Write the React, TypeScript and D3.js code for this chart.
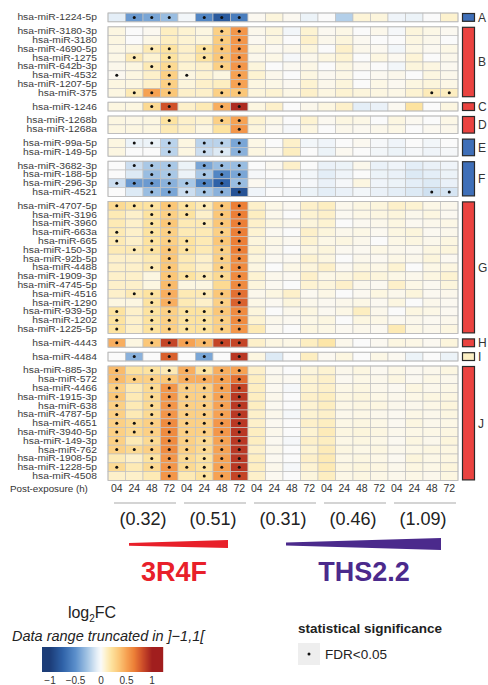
import React from "react";
import * as d3 from "d3";

// row labels (top to bottom)
const rowNames = [
  "hsa-miR-1224-5p",
  "hsa-miR-3180-3p", "hsa-miR-3180", "hsa-miR-4690-5p", "hsa-miR-1275",
  "hsa-miR-642b-3p", "hsa-miR-4532", "hsa-miR-1207-5p", "hsa-miR-375",
  "hsa-miR-1246",
  "hsa-miR-1268b", "hsa-miR-1268a",
  "hsa-miR-99a-5p", "hsa-miR-149-5p",
  "hsa-miR-3682-3p", "hsa-miR-188-5p", "hsa-miR-296-3p", "hsa-miR-4521",
  "hsa-miR-4707-5p", "hsa-miR-3196", "hsa-miR-3960", "hsa-miR-663a", "hsa-miR-665",
  "hsa-miR-150-3p", "hsa-miR-92b-5p", "hsa-miR-4488", "hsa-miR-1909-3p",
  "hsa-miR-4745-5p", "hsa-miR-4516", "hsa-miR-1290", "hsa-miR-939-5p",
  "hsa-miR-1202", "hsa-miR-1225-5p",
  "hsa-miR-4443",
  "hsa-miR-4484",
  "hsa-miR-885-3p", "hsa-miR-572", "hsa-miR-4466", "hsa-miR-1915-3p", "hsa-miR-638",
  "hsa-miR-4787-5p", "hsa-miR-4651", "hsa-miR-3940-5p", "hsa-miR-149-3p",
  "hsa-miR-762", "hsa-miR-1908-5p", "hsa-miR-1228-5p", "hsa-miR-4508",
];

const groupLetters = ["A", "B", "C", "D", "E", "F", "G", "H", "I", "J"];
const groupSizes = [1, 8, 1, 2, 2, 4, 15, 1, 1, 13];
const groupColors = ["#3f6fb8", "#ea4340", "#ea4340", "#ea4340", "#3f6fb8", "#3f6fb8", "#ea4340", "#ea4340", "#fbefc4", "#ea4340"];

const timeLabels = ["04", "24", "48", "72"];
const doseLabels = ["(0.32)", "(0.51)", "(0.31)", "(0.46)", "(1.09)"];
const legendTicks = [-1, -0.5, 0, 0.5, 1];

// log2FC, 20 columns per row (3R4F low, 3R4F high, THS low, mid, high x 04/24/48/72)
const values = [
  [-0.08, -0.45, -0.4, -0.3, -0.03, -0.55, -0.8, -0.6, 0.02, 0.06, 0.02, -0.05, 0.0, -0.22, 0.07, 0.06, -0.04, -0.05, 0.0, 0.09],
  [0.05, 0.0, 0.02, 0.12, 0.08, 0.05, 0.3, 0.55, 0.03, 0.06, -0.03, 0.08, 0.02, 0.04, 0.0, 0.03, -0.02, 0.06, 0.04, 0.02],
  [0.05, 0.0, 0.04, 0.12, 0.08, 0.06, 0.32, 0.55, 0.02, 0.05, 0.0, 0.1, 0.03, 0.06, 0.02, 0.0, 0.0, 0.05, 0.03, 0.0],
  [0.04, 0.05, 0.15, 0.2, 0.1, 0.2, 0.35, 0.55, 0.05, 0.02, 0.03, 0.06, 0.0, 0.1, 0.03, 0.02, -0.03, 0.04, 0.02, 0.04],
  [0.04, 0.15, 0.08, 0.2, 0.1, 0.2, 0.35, 0.55, 0.03, 0.04, -0.02, 0.03, 0.05, 0.08, 0.0, 0.05, 0.02, 0.07, 0.0, 0.03],
  [0.03, 0.05, 0.15, 0.25, 0.08, 0.1, 0.3, 0.55, 0.06, 0.0, 0.02, 0.04, 0.0, 0.05, 0.02, 0.0, -0.03, 0.06, 0.05, 0.02],
  [0.02, 0.05, 0.1, 0.3, 0.05, 0.08, 0.05, 0.5, 0.08, 0.03, 0.0, 0.05, 0.02, 0.04, 0.0, 0.02, 0.03, 0.0, 0.05, 0.03],
  [0.05, 0.05, 0.1, 0.3, 0.06, 0.1, 0.12, 0.5, 0.05, 0.04, 0.02, 0.08, 0.03, 0.06, 0.0, 0.04, 0.02, 0.05, 0.06, 0.04],
  [0.05, 0.15, 0.5, 0.35, 0.1, 0.1, 0.3, 0.35, 0.06, 0.08, 0.04, 0.1, 0.05, 0.08, 0.06, 0.05, 0.04, 0.08, 0.14, 0.12],
  [0.05, 0.05, 0.25, 0.8, 0.1, 0.15, 0.45, 0.95, 0.05, 0.1, 0.0, 0.03, 0.05, 0.1, -0.08, -0.06, 0.02, 0.2, 0.0, 0.05],
  [0.05, 0.04, 0.05, 0.2, 0.1, 0.08, 0.3, 0.5, 0.08, 0.04, 0.0, 0.08, 0.02, 0.05, 0.04, 0.0, 0.05, 0.02, 0.0, 0.04],
  [0.05, 0.05, 0.05, 0.15, 0.1, 0.05, 0.2, 0.55, 0.06, 0.02, -0.02, 0.05, 0.0, 0.03, 0.02, 0.03, 0.04, 0.0, 0.02, 0.03],
  [0.05, -0.05, -0.05, -0.2, 0.05, -0.2, -0.2, -0.4, 0.04, 0.0, 0.1, -0.03, -0.04, 0.0, 0.02, -0.02, -0.04, 0.0, -0.03, 0.0],
  [0.05, 0.0, 0.0, -0.2, 0.05, -0.15, -0.1, -0.35, 0.05, 0.02, 0.12, 0.0, -0.05, 0.02, 0.0, -0.03, -0.05, -0.02, -0.04, -0.02],
  [0.0, -0.15, -0.25, -0.25, -0.05, -0.4, -0.3, -0.3, 0.0, 0.02, 0.1, 0.0, -0.06, -0.05, 0.03, -0.06, -0.04, -0.08, -0.06, -0.04],
  [0.0, -0.1, -0.3, -0.25, -0.05, -0.25, -0.55, -0.4, -0.02, 0.0, 0.0, -0.03, -0.08, -0.04, 0.0, -0.05, -0.06, -0.1, -0.08, -0.05],
  [-0.15, -0.45, -0.45, -0.35, -0.25, -0.55, -0.75, -0.3, 0.02, -0.03, 0.0, -0.02, -0.06, -0.02, 0.05, -0.04, -0.05, -0.08, -0.1, -0.06],
  [0.0, -0.1, -0.3, -0.4, -0.15, -0.25, -0.35, -0.85, -0.04, 0.0, -0.02, -0.05, -0.08, -0.06, -0.03, -0.06, -0.08, -0.1, -0.14, -0.12],
  [0.25, 0.2, 0.2, 0.35, 0.2, 0.15, 0.35, 0.65, 0.1, 0.04, 0.02, 0.1, 0.12, 0.03, 0.05, 0.06, 0.1, 0.08, 0.04, 0.03],
  [0.15, 0.1, 0.2, 0.3, 0.2, 0.1, 0.35, 0.65, 0.12, 0.03, 0.0, 0.08, 0.1, 0.02, 0.04, 0.05, 0.06, 0.03, 0.05, 0.02],
  [0.15, 0.1, 0.2, 0.35, 0.15, 0.15, 0.35, 0.65, 0.1, 0.05, 0.03, 0.06, 0.08, 0.0, 0.02, 0.03, 0.05, 0.02, 0.03, 0.04],
  [0.15, 0.1, 0.2, 0.3, 0.15, 0.15, 0.3, 0.65, 0.08, 0.02, 0.0, 0.1, 0.06, 0.03, 0.04, 0.02, 0.05, 0.06, 0.02, 0.03],
  [0.15, 0.1, 0.2, 0.3, 0.2, 0.15, 0.35, 0.65, 0.06, 0.04, 0.02, 0.08, 0.04, 0.05, 0.03, 0.0, 0.04, 0.05, 0.03, 0.05],
  [0.15, 0.15, 0.2, 0.35, 0.2, 0.15, 0.3, 0.65, 0.08, 0.03, 0.0, 0.05, 0.06, 0.02, 0.02, 0.04, 0.03, 0.02, 0.05, 0.06],
  [0.1, 0.1, 0.15, 0.35, 0.15, 0.1, 0.3, 0.6, 0.06, 0.02, 0.02, 0.08, 0.05, 0.0, 0.03, 0.02, 0.04, 0.03, 0.06, 0.02],
  [0.1, 0.1, 0.15, 0.35, 0.15, 0.1, 0.3, 0.6, 0.05, 0.0, 0.04, 0.06, 0.1, 0.02, 0.05, 0.04, 0.08, 0.0, 0.04, 0.05],
  [0.1, 0.1, 0.05, 0.35, 0.2, 0.15, 0.25, 0.6, 0.08, 0.03, 0.02, 0.1, 0.04, 0.05, 0.08, 0.06, 0.04, 0.03, 0.05, 0.08],
  [0.1, 0.1, 0.05, 0.4, 0.05, 0.05, 0.25, 0.6, 0.06, 0.02, 0.0, 0.08, 0.06, 0.1, 0.03, 0.02, 0.1, 0.04, 0.02, 0.06],
  [0.1, 0.15, 0.2, 0.45, 0.15, 0.15, 0.35, 0.7, 0.03, 0.05, 0.1, 0.02, 0.04, 0.0, 0.02, 0.05, 0.03, 0.06, 0.02, 0.03],
  [0.05, 0.05, 0.2, 0.45, 0.15, 0.1, 0.3, 0.75, 0.04, 0.02, 0.06, 0.03, 0.02, 0.03, 0.04, 0.02, 0.05, 0.0, 0.03, 0.02],
  [0.2, 0.1, 0.2, 0.3, 0.2, 0.2, 0.35, 0.6, 0.06, 0.0, 0.03, 0.05, 0.02, 0.04, 0.12, 0.03, 0.0, 0.05, 0.04, 0.02],
  [0.2, 0.1, 0.2, 0.3, 0.2, 0.2, 0.3, 0.6, 0.08, 0.03, 0.02, 0.04, 0.05, 0.0, 0.05, 0.04, 0.02, 0.03, 0.02, 0.03],
  [0.2, 0.1, 0.2, 0.3, 0.2, 0.2, 0.3, 0.55, 0.15, 0.02, 0.0, 0.05, 0.04, 0.02, 0.03, 0.02, 0.15, 0.04, 0.03, 0.05],
  [0.45, 0.05, 0.35, 0.85, 0.5, 0.4, 0.85, 0.85, 0.1, 0.05, 0.04, 0.12, 0.18, 0.03, 0.0, 0.02, 0.05, 0.04, 0.02, 0.06],
  [0.0, -0.35, 0.0, 0.75, 0.0, -0.4, 0.0, 0.9, 0.05, -0.1, 0.0, 0.12, 0.02, 0.05, 0.0, 0.04, 0.02, -0.05, 0.0, -0.05],
  [0.4, 0.2, 0.2, 0.15, 0.45, 0.2, 0.45, 0.5, 0.1, 0.02, 0.0, 0.06, 0.08, 0.03, 0.05, 0.02, 0.04, 0.02, 0.03, 0.05],
  [0.4, 0.3, 0.3, 0.35, 0.45, 0.45, 0.5, 0.7, 0.12, 0.03, 0.02, 0.08, 0.1, 0.02, 0.04, 0.03, 0.05, 0.02, 0.04, 0.03],
  [0.3, 0.15, 0.25, 0.55, 0.3, 0.3, 0.5, 0.85, 0.12, 0.02, -0.02, 0.08, 0.1, 0.04, 0.05, 0.03, 0.02, 0.05, 0.03, 0.04],
  [0.35, 0.15, 0.25, 0.55, 0.3, 0.3, 0.5, 0.9, 0.12, 0.03, 0.0, 0.1, 0.12, 0.05, 0.06, 0.04, 0.03, 0.04, 0.05, 0.05],
  [0.3, 0.15, 0.25, 0.55, 0.3, 0.3, 0.5, 0.9, 0.12, 0.02, 0.0, 0.08, 0.12, 0.04, 0.05, 0.05, 0.03, 0.03, 0.04, 0.06],
  [0.3, 0.15, 0.25, 0.55, 0.3, 0.3, 0.5, 0.9, 0.1, 0.03, -0.02, 0.08, 0.1, 0.03, 0.04, 0.03, 0.02, 0.04, 0.03, 0.05],
  [0.3, 0.25, 0.3, 0.6, 0.3, 0.3, 0.55, 0.9, 0.1, 0.02, 0.0, 0.1, 0.12, 0.04, 0.05, 0.04, 0.02, 0.05, 0.03, 0.04],
  [0.3, 0.25, 0.3, 0.6, 0.3, 0.3, 0.55, 0.9, 0.12, 0.03, 0.0, 0.08, 0.14, 0.05, 0.06, 0.05, 0.03, 0.04, 0.04, 0.05],
  [0.3, 0.15, 0.25, 0.6, 0.3, 0.25, 0.5, 0.9, 0.12, 0.02, -0.02, 0.1, 0.12, 0.04, 0.05, 0.04, 0.02, 0.05, 0.03, 0.06],
  [0.3, 0.25, 0.3, 0.6, 0.3, 0.25, 0.5, 0.9, 0.1, 0.03, 0.0, 0.08, 0.14, 0.05, 0.04, 0.05, 0.03, 0.04, 0.05, 0.05],
  [0.15, 0.1, 0.2, 0.55, 0.25, 0.2, 0.5, 0.9, 0.12, 0.02, 0.0, 0.1, 0.15, 0.04, 0.05, 0.04, 0.02, 0.06, 0.04, 0.05],
  [0.25, 0.15, 0.25, 0.55, 0.25, 0.2, 0.5, 0.9, 0.12, 0.03, -0.02, 0.08, 0.15, 0.05, 0.06, 0.05, 0.03, 0.05, 0.04, 0.06],
  [0.1, 0.1, 0.15, 0.55, 0.15, 0.2, 0.5, 0.85, 0.1, 0.02, 0.0, 0.06, 0.12, 0.04, 0.05, 0.04, 0.03, 0.04, 0.03, 0.05],
];

// columns with FDR<0.05, per row
const sigCols = [
  [1, 2, 3, 5, 6, 7],
  [6, 7], [6, 7], [2, 3, 5, 6, 7], [1, 3, 5, 6, 7], [2, 3, 6, 7], [0, 3, 4, 7], [3, 7], [1, 2, 3, 6, 7, 18, 19],
  [2, 3, 6, 7],
  [3, 6, 7], [7],
  [1, 2, 3, 5, 6, 7], [3, 5, 6, 7],
  [1, 2, 3, 5, 6, 7], [2, 3, 5, 6, 7], [0, 1, 2, 3, 4, 5, 6, 7], [2, 3, 4, 5, 6, 7, 18, 19],
  [0, 1, 2, 3, 4, 5, 6, 7], [2, 3, 4, 6, 7], [2, 3, 5, 6, 7], [0, 2, 3, 6, 7], [0, 2, 3, 4, 6, 7],
  [1, 2, 3, 4, 6, 7], [3, 6, 7], [2, 3, 6, 7], [3, 4, 5, 6, 7], [3, 7], [1, 2, 3, 5, 6, 7],
  [2, 3, 6, 7], [0, 2, 3, 4, 5, 6, 7], [0, 2, 3, 4, 5, 6, 7], [0, 2, 3, 4, 5, 6, 7],
  [0, 2, 3, 4, 5, 6, 7],
  [1, 3, 5, 7],
  [0, 2, 3, 4, 5, 6, 7], [0, 1, 2, 3, 4, 5, 6, 7], [0, 2, 3, 4, 5, 6, 7], [0, 2, 3, 4, 5, 6, 7],
  [0, 2, 3, 4, 5, 6, 7], [0, 2, 3, 4, 5, 6, 7], [0, 1, 2, 3, 4, 5, 6, 7], [0, 1, 2, 3, 4, 5, 6, 7],
  [0, 2, 3, 4, 5, 6, 7], [0, 1, 2, 3, 4, 5, 6, 7], [2, 3, 4, 5, 6, 7], [0, 2, 3, 4, 5, 6, 7],
  [3, 5, 6, 7],
];

const color = d3
  .scaleLinear<string>()
  .domain([-1, -0.75, -0.5, -0.25, -0.08, 0, 0.08, 0.2, 0.35, 0.5, 0.65, 0.8, 1])
  .range(["#1c3d78", "#2f62a8", "#5b8fcb", "#a9c8e6", "#e4eef7", "#fafafa", "#fdf3d2", "#fde3a0", "#fbc778", "#f6a253", "#ec7f37", "#d0522a", "#a11e1e"])
  .clamp(true);

const FONT = "'Liberation Sans', Arial, sans-serif";

export default function App() {
  const nCols = 20;
  const x = d3.scaleBand<number>().domain(d3.range(nCols)).range([108, 458]);
  const cw = x.bandwidth();
  const rowH = 8.8;
  const gap = 5;
  const top = 13;

  // row y positions with gaps between groups
  const rowY: number[] = [];
  const groupBox: { y0: number; y1: number }[] = [];
  let yy = top;
  groupSizes.forEach((n) => {
    const y0 = yy;
    for (let i = 0; i < n; i++) {
      rowY.push(yy);
      yy += rowH;
    }
    groupBox.push({ y0, y1: yy });
    yy += gap;
  });

  const legendX = d3.scaleLinear().domain([-1, 1]).range([50, 152]);
  const barPx = d3.range(42, 163, 1);

  const groupX = (g: number) => [x(g * 4)!, x(g * 4 + 3)! + cw];

  return (
    <svg width={488} height={685} style={{ position: "absolute", left: 0, top: 0, background: "#fff" }} fontFamily={FONT}>
      {/* heatmap cells */}
      {values.map((row, r) => (
        <g key={r}>
          {row.map((v, c) => (
            <rect key={c} x={x(c)} y={rowY[r]} width={cw} height={rowH} fill={color(v)} stroke="#c2c2c2" strokeWidth={0.7} />
          ))}
          {sigCols[r].map((c) => (
            <circle key={"s" + c} cx={x(c)! + cw / 2} cy={rowY[r] + rowH / 2} r={1.5} fill="#111" />
          ))}
          <text
            transform={`translate(97,${rowY[r] + rowH / 2}) scale(1.2,1)`}
            dy="0.35em"
            textAnchor="end"
            fontSize={8.6}
            fill="#3c3c3c"
          >
            {rowNames[r]}
          </text>
        </g>
      ))}

      {/* group outlines, bars and letters */}
      {groupBox.map((b, g) => (
        <g key={g}>
          <rect x={108} y={b.y0} width={350} height={b.y1 - b.y0} fill="none" stroke="#b8b8b8" strokeWidth={0.8} />
          <rect x={462.5} y={b.y0 + 0.5} width={12} height={b.y1 - b.y0 - 1} fill={groupColors[g]} stroke="#2a2a2a" strokeWidth={1.2} />
          <text x={478} y={(b.y0 + b.y1) / 2} dy="0.36em" fontSize={12} fill="#333">
            {groupLetters[g]}
          </text>
        </g>
      ))}

      {/* column labels */}
      <text x={10} y={492} fontSize={9.8} fill="#333">Post-exposure (h)</text>
      {d3.range(nCols).map((c) => (
        <text key={c} x={x(c)! + cw / 2} y={492} textAnchor="middle" fontSize={10.5} fill="#333">
          {timeLabels[c % 4]}
        </text>
      ))}

      {/* dose brackets */}
      {doseLabels.map((d, g) => {
        const [g0, g1] = groupX(g);
        return (
          <g key={d}>
            <line x1={g0 + 6} x2={g1 - 2} y1={503} y2={503} stroke="#aaa" strokeWidth={1.2} />
            <text x={(g0 + g1) / 2} y={525} textAnchor="middle" fontSize={18} fill="#222">
              {d}
            </text>
          </g>
        );
      })}

      {/* dose wedges */}
      <polygon points="129,543 228,540 228,548 129,545.8" fill="#e8202a" />
      <polygon points="286,542.5 441,538 441,550 286,545.5" fill="#4b2a8c" />
      <text x={174} y={581} textAnchor="middle" fontSize={27} fontWeight="bold" fill="#e8202a">3R4F</text>
      <text x={364} y={581} textAnchor="middle" fontSize={27} fontWeight="bold" fill="#4b2a8c">THS2.2</text>

      {/* colour legend */}
      <text x={92} y={618} textAnchor="middle" fontSize={16} fill="#222">
        log<tspan fontSize={10} dy={4}>2</tspan><tspan dy={-4}>FC</tspan>
      </text>
      <text x={12} y={641} fontSize={14.5} fontStyle="italic" fill="#222">Data range truncated in ]−1,1[</text>
      {barPx.map((px) => (
        <rect key={px} x={px} y={647} width={1.2} height={25} fill={color(legendX.invert(px + 0.5))} />
      ))}
      {legendTicks.map((t) => (
        <text key={t} x={legendX(t)} y={684} textAnchor="middle" fontSize={10} fill="#333">
          {t < 0 ? "−" + Math.abs(t) : t}
        </text>
      ))}

      {/* significance legend */}
      <text x={298} y={633} fontSize={13.5} fontWeight="bold" fill="#222">statistical significance</text>
      <rect x={298} y={643} width={22} height={22} fill="#eeeeee" />
      <circle cx={309} cy={654} r={1.5} fill="#111" />
      <text x={325} y={659} fontSize={13.5} fill="#222">FDR&lt;0.05</text>
    </svg>
  );
}
